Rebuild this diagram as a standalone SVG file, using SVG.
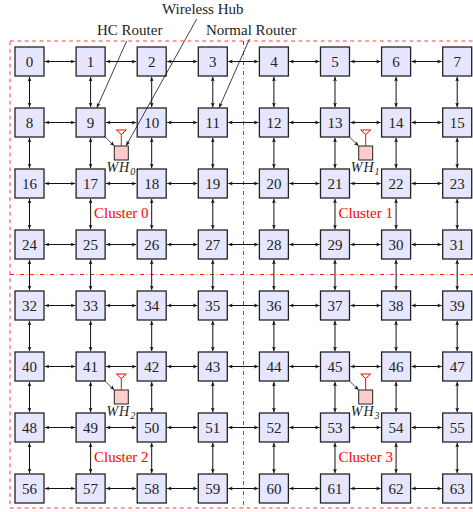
<svg xmlns="http://www.w3.org/2000/svg" xmlns:xlink="http://www.w3.org/1999/xlink" width="473" height="512" viewBox="0 0 473 512">
<style>
.nd rect{fill:#e6e6ff;stroke:#222;stroke-width:1.3}
.nd text{font-family:"Liberation Serif",serif;font-size:15px;fill:#222;text-anchor:middle}
.e line{stroke:#111;stroke-width:1;marker-start:url(#a);marker-end:url(#a)}
.ld line{stroke:#111;stroke-width:0.8;marker-end:url(#a)}
.lbl{font-family:"Liberation Serif",serif;font-size:15px;fill:#222}
.cl{font-family:"Liberation Serif",serif;font-size:15px;fill:#f00;text-anchor:middle}
.wh rect{fill:#ffcccc;stroke:#222;stroke-width:1}
.wh .ant{stroke:#f00;stroke-width:1;fill:#fff}
.wh text{font-family:"Liberation Serif",serif;font-style:italic;font-size:14px;fill:#222;text-anchor:middle;letter-spacing:1px}
.wh line.lk{stroke:#222;stroke-width:0.8;marker-end:url(#a)}
.bd{fill:none;stroke:#f22;stroke-width:0.9;stroke-dasharray:3.7 3.7}
.dd{fill:none;stroke:#f00;stroke-width:0.9;stroke-dasharray:4 2.6 0.8 2.6}
</style>
<defs>
<marker id="a" viewBox="0 0 6 6" refX="5.6" refY="3" markerWidth="4.8" markerHeight="4.8" markerUnits="userSpaceOnUse" orient="auto-start-reverse">
<path d="M0,0.5 L5.6,3 L0,5.5 L1.5,3 z" fill="#111"/>
</marker>
</defs>

<g id="clusters">
<rect class="bd" x="10" y="41" width="475" height="467"/>
<line class="dd" x1="243.5" y1="41" x2="243.5" y2="508"/>
<line class="dd" x1="10" y1="274.5" x2="480" y2="274.5"/>
<text class="cl" x="121.3" y="218">Cluster 0</text>
<text class="cl" x="365.7" y="218">Cluster 1</text>
<text class="cl" x="121.3" y="462">Cluster 2</text>
<text class="cl" x="365.7" y="462">Cluster 3</text>
</g>

<g id="connectors" class="e">
<line x1="45" y1="61.5" x2="75.1" y2="61.5"/><line x1="106.1" y1="61.5" x2="136.2" y2="61.5"/><line x1="167.2" y1="61.5" x2="197.3" y2="61.5"/><line x1="228.3" y1="61.5" x2="258.4" y2="61.5"/><line x1="289.4" y1="61.5" x2="319.5" y2="61.5"/><line x1="350.5" y1="61.5" x2="380.6" y2="61.5"/><line x1="411.6" y1="61.5" x2="441.7" y2="61.5"/>
<line x1="45" y1="122.5" x2="75.1" y2="122.5"/><line x1="106.1" y1="122.5" x2="136.2" y2="122.5"/><line x1="167.2" y1="122.5" x2="197.3" y2="122.5"/><line x1="228.3" y1="122.5" x2="258.4" y2="122.5"/><line x1="289.4" y1="122.5" x2="319.5" y2="122.5"/><line x1="350.5" y1="122.5" x2="380.6" y2="122.5"/><line x1="411.6" y1="122.5" x2="441.7" y2="122.5"/>
<line x1="45" y1="183.5" x2="75.1" y2="183.5"/><line x1="106.1" y1="183.5" x2="136.2" y2="183.5"/><line x1="167.2" y1="183.5" x2="197.3" y2="183.5"/><line x1="228.3" y1="183.5" x2="258.4" y2="183.5"/><line x1="289.4" y1="183.5" x2="319.5" y2="183.5"/><line x1="350.5" y1="183.5" x2="380.6" y2="183.5"/><line x1="411.6" y1="183.5" x2="441.7" y2="183.5"/>
<line x1="45" y1="244.5" x2="75.1" y2="244.5"/><line x1="106.1" y1="244.5" x2="136.2" y2="244.5"/><line x1="167.2" y1="244.5" x2="197.3" y2="244.5"/><line x1="228.3" y1="244.5" x2="258.4" y2="244.5"/><line x1="289.4" y1="244.5" x2="319.5" y2="244.5"/><line x1="350.5" y1="244.5" x2="380.6" y2="244.5"/><line x1="411.6" y1="244.5" x2="441.7" y2="244.5"/>
<line x1="45" y1="305.5" x2="75.1" y2="305.5"/><line x1="106.1" y1="305.5" x2="136.2" y2="305.5"/><line x1="167.2" y1="305.5" x2="197.3" y2="305.5"/><line x1="228.3" y1="305.5" x2="258.4" y2="305.5"/><line x1="289.4" y1="305.5" x2="319.5" y2="305.5"/><line x1="350.5" y1="305.5" x2="380.6" y2="305.5"/><line x1="411.6" y1="305.5" x2="441.7" y2="305.5"/>
<line x1="45" y1="366.5" x2="75.1" y2="366.5"/><line x1="106.1" y1="366.5" x2="136.2" y2="366.5"/><line x1="167.2" y1="366.5" x2="197.3" y2="366.5"/><line x1="228.3" y1="366.5" x2="258.4" y2="366.5"/><line x1="289.4" y1="366.5" x2="319.5" y2="366.5"/><line x1="350.5" y1="366.5" x2="380.6" y2="366.5"/><line x1="411.6" y1="366.5" x2="441.7" y2="366.5"/>
<line x1="45" y1="427.5" x2="75.1" y2="427.5"/><line x1="106.1" y1="427.5" x2="136.2" y2="427.5"/><line x1="167.2" y1="427.5" x2="197.3" y2="427.5"/><line x1="228.3" y1="427.5" x2="258.4" y2="427.5"/><line x1="289.4" y1="427.5" x2="319.5" y2="427.5"/><line x1="350.5" y1="427.5" x2="380.6" y2="427.5"/><line x1="411.6" y1="427.5" x2="441.7" y2="427.5"/>
<line x1="45" y1="488.5" x2="75.1" y2="488.5"/><line x1="106.1" y1="488.5" x2="136.2" y2="488.5"/><line x1="167.2" y1="488.5" x2="197.3" y2="488.5"/><line x1="228.3" y1="488.5" x2="258.4" y2="488.5"/><line x1="289.4" y1="488.5" x2="319.5" y2="488.5"/><line x1="350.5" y1="488.5" x2="380.6" y2="488.5"/><line x1="411.6" y1="488.5" x2="441.7" y2="488.5"/>
<line x1="29.5" y1="77" x2="29.5" y2="107"/><line x1="29.5" y1="138" x2="29.5" y2="168"/><line x1="29.5" y1="199" x2="29.5" y2="229"/><line x1="29.5" y1="260" x2="29.5" y2="290"/><line x1="29.5" y1="321" x2="29.5" y2="351"/><line x1="29.5" y1="382" x2="29.5" y2="412"/><line x1="29.5" y1="443" x2="29.5" y2="473"/>
<line x1="90.6" y1="77" x2="90.6" y2="107"/><line x1="90.6" y1="138" x2="90.6" y2="168"/><line x1="90.6" y1="199" x2="90.6" y2="229"/><line x1="90.6" y1="260" x2="90.6" y2="290"/><line x1="90.6" y1="321" x2="90.6" y2="351"/><line x1="90.6" y1="382" x2="90.6" y2="412"/><line x1="90.6" y1="443" x2="90.6" y2="473"/>
<line x1="151.7" y1="77" x2="151.7" y2="107"/><line x1="151.7" y1="138" x2="151.7" y2="168"/><line x1="151.7" y1="199" x2="151.7" y2="229"/><line x1="151.7" y1="260" x2="151.7" y2="290"/><line x1="151.7" y1="321" x2="151.7" y2="351"/><line x1="151.7" y1="382" x2="151.7" y2="412"/><line x1="151.7" y1="443" x2="151.7" y2="473"/>
<line x1="212.8" y1="77" x2="212.8" y2="107"/><line x1="212.8" y1="138" x2="212.8" y2="168"/><line x1="212.8" y1="199" x2="212.8" y2="229"/><line x1="212.8" y1="260" x2="212.8" y2="290"/><line x1="212.8" y1="321" x2="212.8" y2="351"/><line x1="212.8" y1="382" x2="212.8" y2="412"/><line x1="212.8" y1="443" x2="212.8" y2="473"/>
<line x1="273.9" y1="77" x2="273.9" y2="107"/><line x1="273.9" y1="138" x2="273.9" y2="168"/><line x1="273.9" y1="199" x2="273.9" y2="229"/><line x1="273.9" y1="260" x2="273.9" y2="290"/><line x1="273.9" y1="321" x2="273.9" y2="351"/><line x1="273.9" y1="382" x2="273.9" y2="412"/><line x1="273.9" y1="443" x2="273.9" y2="473"/>
<line x1="335" y1="77" x2="335" y2="107"/><line x1="335" y1="138" x2="335" y2="168"/><line x1="335" y1="199" x2="335" y2="229"/><line x1="335" y1="260" x2="335" y2="290"/><line x1="335" y1="321" x2="335" y2="351"/><line x1="335" y1="382" x2="335" y2="412"/><line x1="335" y1="443" x2="335" y2="473"/>
<line x1="396.1" y1="77" x2="396.1" y2="107"/><line x1="396.1" y1="138" x2="396.1" y2="168"/><line x1="396.1" y1="199" x2="396.1" y2="229"/><line x1="396.1" y1="260" x2="396.1" y2="290"/><line x1="396.1" y1="321" x2="396.1" y2="351"/><line x1="396.1" y1="382" x2="396.1" y2="412"/><line x1="396.1" y1="443" x2="396.1" y2="473"/>
<line x1="457.2" y1="77" x2="457.2" y2="107"/><line x1="457.2" y1="138" x2="457.2" y2="168"/><line x1="457.2" y1="199" x2="457.2" y2="229"/><line x1="457.2" y1="260" x2="457.2" y2="290"/><line x1="457.2" y1="321" x2="457.2" y2="351"/><line x1="457.2" y1="382" x2="457.2" y2="412"/><line x1="457.2" y1="443" x2="457.2" y2="473"/>
</g>

<g id="nodes" class="nd">
<g id="n0" transform="translate(29.5,61.5)"><rect x="-14.5" y="-14.5" width="29" height="29"/><text y="5">0</text></g>
<g id="n1" transform="translate(90.6,61.5)"><rect x="-14.5" y="-14.5" width="29" height="29"/><text y="5">1</text></g>
<g id="n2" transform="translate(151.7,61.5)"><rect x="-14.5" y="-14.5" width="29" height="29"/><text y="5">2</text></g>
<g id="n3" transform="translate(212.8,61.5)"><rect x="-14.5" y="-14.5" width="29" height="29"/><text y="5">3</text></g>
<g id="n4" transform="translate(273.9,61.5)"><rect x="-14.5" y="-14.5" width="29" height="29"/><text y="5">4</text></g>
<g id="n5" transform="translate(335,61.5)"><rect x="-14.5" y="-14.5" width="29" height="29"/><text y="5">5</text></g>
<g id="n6" transform="translate(396.1,61.5)"><rect x="-14.5" y="-14.5" width="29" height="29"/><text y="5">6</text></g>
<g id="n7" transform="translate(457.2,61.5)"><rect x="-14.5" y="-14.5" width="29" height="29"/><text y="5">7</text></g>
<g id="n8" transform="translate(29.5,122.5)"><rect x="-14.5" y="-14.5" width="29" height="29"/><text y="5">8</text></g>
<g id="n9" transform="translate(90.6,122.5)"><rect x="-14.5" y="-14.5" width="29" height="29"/><text y="5">9</text></g>
<g id="n10" transform="translate(151.7,122.5)"><rect x="-14.5" y="-14.5" width="29" height="29"/><text y="5">10</text></g>
<g id="n11" transform="translate(212.8,122.5)"><rect x="-14.5" y="-14.5" width="29" height="29"/><text y="5">11</text></g>
<g id="n12" transform="translate(273.9,122.5)"><rect x="-14.5" y="-14.5" width="29" height="29"/><text y="5">12</text></g>
<g id="n13" transform="translate(335,122.5)"><rect x="-14.5" y="-14.5" width="29" height="29"/><text y="5">13</text></g>
<g id="n14" transform="translate(396.1,122.5)"><rect x="-14.5" y="-14.5" width="29" height="29"/><text y="5">14</text></g>
<g id="n15" transform="translate(457.2,122.5)"><rect x="-14.5" y="-14.5" width="29" height="29"/><text y="5">15</text></g>
<g id="n16" transform="translate(29.5,183.5)"><rect x="-14.5" y="-14.5" width="29" height="29"/><text y="5">16</text></g>
<g id="n17" transform="translate(90.6,183.5)"><rect x="-14.5" y="-14.5" width="29" height="29"/><text y="5">17</text></g>
<g id="n18" transform="translate(151.7,183.5)"><rect x="-14.5" y="-14.5" width="29" height="29"/><text y="5">18</text></g>
<g id="n19" transform="translate(212.8,183.5)"><rect x="-14.5" y="-14.5" width="29" height="29"/><text y="5">19</text></g>
<g id="n20" transform="translate(273.9,183.5)"><rect x="-14.5" y="-14.5" width="29" height="29"/><text y="5">20</text></g>
<g id="n21" transform="translate(335,183.5)"><rect x="-14.5" y="-14.5" width="29" height="29"/><text y="5">21</text></g>
<g id="n22" transform="translate(396.1,183.5)"><rect x="-14.5" y="-14.5" width="29" height="29"/><text y="5">22</text></g>
<g id="n23" transform="translate(457.2,183.5)"><rect x="-14.5" y="-14.5" width="29" height="29"/><text y="5">23</text></g>
<g id="n24" transform="translate(29.5,244.5)"><rect x="-14.5" y="-14.5" width="29" height="29"/><text y="5">24</text></g>
<g id="n25" transform="translate(90.6,244.5)"><rect x="-14.5" y="-14.5" width="29" height="29"/><text y="5">25</text></g>
<g id="n26" transform="translate(151.7,244.5)"><rect x="-14.5" y="-14.5" width="29" height="29"/><text y="5">26</text></g>
<g id="n27" transform="translate(212.8,244.5)"><rect x="-14.5" y="-14.5" width="29" height="29"/><text y="5">27</text></g>
<g id="n28" transform="translate(273.9,244.5)"><rect x="-14.5" y="-14.5" width="29" height="29"/><text y="5">28</text></g>
<g id="n29" transform="translate(335,244.5)"><rect x="-14.5" y="-14.5" width="29" height="29"/><text y="5">29</text></g>
<g id="n30" transform="translate(396.1,244.5)"><rect x="-14.5" y="-14.5" width="29" height="29"/><text y="5">30</text></g>
<g id="n31" transform="translate(457.2,244.5)"><rect x="-14.5" y="-14.5" width="29" height="29"/><text y="5">31</text></g>
<g id="n32" transform="translate(29.5,305.5)"><rect x="-14.5" y="-14.5" width="29" height="29"/><text y="5">32</text></g>
<g id="n33" transform="translate(90.6,305.5)"><rect x="-14.5" y="-14.5" width="29" height="29"/><text y="5">33</text></g>
<g id="n34" transform="translate(151.7,305.5)"><rect x="-14.5" y="-14.5" width="29" height="29"/><text y="5">34</text></g>
<g id="n35" transform="translate(212.8,305.5)"><rect x="-14.5" y="-14.5" width="29" height="29"/><text y="5">35</text></g>
<g id="n36" transform="translate(273.9,305.5)"><rect x="-14.5" y="-14.5" width="29" height="29"/><text y="5">36</text></g>
<g id="n37" transform="translate(335,305.5)"><rect x="-14.5" y="-14.5" width="29" height="29"/><text y="5">37</text></g>
<g id="n38" transform="translate(396.1,305.5)"><rect x="-14.5" y="-14.5" width="29" height="29"/><text y="5">38</text></g>
<g id="n39" transform="translate(457.2,305.5)"><rect x="-14.5" y="-14.5" width="29" height="29"/><text y="5">39</text></g>
<g id="n40" transform="translate(29.5,366.5)"><rect x="-14.5" y="-14.5" width="29" height="29"/><text y="5">40</text></g>
<g id="n41" transform="translate(90.6,366.5)"><rect x="-14.5" y="-14.5" width="29" height="29"/><text y="5">41</text></g>
<g id="n42" transform="translate(151.7,366.5)"><rect x="-14.5" y="-14.5" width="29" height="29"/><text y="5">42</text></g>
<g id="n43" transform="translate(212.8,366.5)"><rect x="-14.5" y="-14.5" width="29" height="29"/><text y="5">43</text></g>
<g id="n44" transform="translate(273.9,366.5)"><rect x="-14.5" y="-14.5" width="29" height="29"/><text y="5">44</text></g>
<g id="n45" transform="translate(335,366.5)"><rect x="-14.5" y="-14.5" width="29" height="29"/><text y="5">45</text></g>
<g id="n46" transform="translate(396.1,366.5)"><rect x="-14.5" y="-14.5" width="29" height="29"/><text y="5">46</text></g>
<g id="n47" transform="translate(457.2,366.5)"><rect x="-14.5" y="-14.5" width="29" height="29"/><text y="5">47</text></g>
<g id="n48" transform="translate(29.5,427.5)"><rect x="-14.5" y="-14.5" width="29" height="29"/><text y="5">48</text></g>
<g id="n49" transform="translate(90.6,427.5)"><rect x="-14.5" y="-14.5" width="29" height="29"/><text y="5">49</text></g>
<g id="n50" transform="translate(151.7,427.5)"><rect x="-14.5" y="-14.5" width="29" height="29"/><text y="5">50</text></g>
<g id="n51" transform="translate(212.8,427.5)"><rect x="-14.5" y="-14.5" width="29" height="29"/><text y="5">51</text></g>
<g id="n52" transform="translate(273.9,427.5)"><rect x="-14.5" y="-14.5" width="29" height="29"/><text y="5">52</text></g>
<g id="n53" transform="translate(335,427.5)"><rect x="-14.5" y="-14.5" width="29" height="29"/><text y="5">53</text></g>
<g id="n54" transform="translate(396.1,427.5)"><rect x="-14.5" y="-14.5" width="29" height="29"/><text y="5">54</text></g>
<g id="n55" transform="translate(457.2,427.5)"><rect x="-14.5" y="-14.5" width="29" height="29"/><text y="5">55</text></g>
<g id="n56" transform="translate(29.5,488.5)"><rect x="-14.5" y="-14.5" width="29" height="29"/><text y="5">56</text></g>
<g id="n57" transform="translate(90.6,488.5)"><rect x="-14.5" y="-14.5" width="29" height="29"/><text y="5">57</text></g>
<g id="n58" transform="translate(151.7,488.5)"><rect x="-14.5" y="-14.5" width="29" height="29"/><text y="5">58</text></g>
<g id="n59" transform="translate(212.8,488.5)"><rect x="-14.5" y="-14.5" width="29" height="29"/><text y="5">59</text></g>
<g id="n60" transform="translate(273.9,488.5)"><rect x="-14.5" y="-14.5" width="29" height="29"/><text y="5">60</text></g>
<g id="n61" transform="translate(335,488.5)"><rect x="-14.5" y="-14.5" width="29" height="29"/><text y="5">61</text></g>
<g id="n62" transform="translate(396.1,488.5)"><rect x="-14.5" y="-14.5" width="29" height="29"/><text y="5">62</text></g>
<g id="n63" transform="translate(457.2,488.5)"><rect x="-14.5" y="-14.5" width="29" height="29"/><text y="5">63</text></g>
</g>

<g id="hubs" class="wh">
<g id="wh0" transform="translate(121.3,153)">
<line class="lk" x1="-16.2" y1="-16" x2="-7.2" y2="-7.2"/>
<rect x="-7" y="-7" width="14" height="14"/>
<line class="ant" x1="0" y1="-7" x2="0" y2="-18.5"/><polygon class="ant" points="-5,-23 5,-23 0,-18.5"/>
<text y="18.5">WH<tspan font-size="10" dy="3">0</tspan></text>
</g>
<g id="wh1" transform="translate(365.7,153)">
<line class="lk" x1="-16.2" y1="-16" x2="-7.2" y2="-7.2"/>
<rect x="-7" y="-7" width="14" height="14"/>
<line class="ant" x1="0" y1="-7" x2="0" y2="-18.5"/><polygon class="ant" points="-5,-23 5,-23 0,-18.5"/>
<text y="18.5">WH<tspan font-size="10" dy="3">1</tspan></text>
</g>
<g id="wh2" transform="translate(121.3,397)">
<line class="lk" x1="-16.2" y1="-16" x2="-7.2" y2="-7.2"/>
<rect x="-7" y="-7" width="14" height="14"/>
<line class="ant" x1="0" y1="-7" x2="0" y2="-18.5"/><polygon class="ant" points="-5,-23 5,-23 0,-18.5"/>
<text y="18.5">WH<tspan font-size="10" dy="3">2</tspan></text>
</g>
<g id="wh3" transform="translate(365.7,397)">
<line class="lk" x1="-16.2" y1="-16" x2="-7.2" y2="-7.2"/>
<rect x="-7" y="-7" width="14" height="14"/>
<line class="ant" x1="0" y1="-7" x2="0" y2="-18.5"/><polygon class="ant" points="-5,-23 5,-23 0,-18.5"/>
<text y="18.5">WH<tspan font-size="10" dy="3">3</tspan></text>
</g>
</g>

<g id="legend">
<text class="lbl" x="97" y="35">HC Router</text>
<text class="lbl" x="162" y="14">Wireless Hub</text>
<text class="lbl" x="206" y="35">Normal Router</text>
<g class="ld">
<line x1="126.7" y1="41" x2="96.9" y2="107.6"/>
<line x1="196.7" y1="19" x2="126.3" y2="145.4"/>
<line x1="249.5" y1="39" x2="219.2" y2="107.6"/>
</g>
</g>
</svg>
